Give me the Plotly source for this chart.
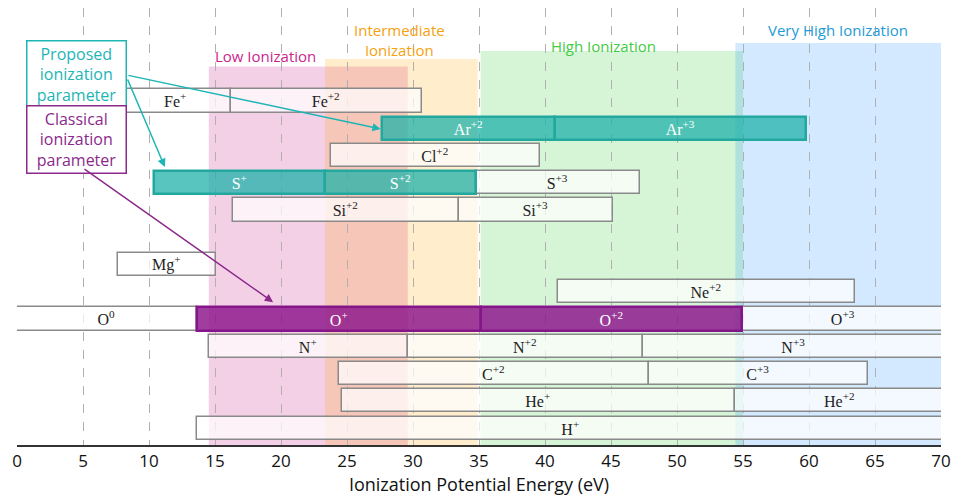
import plotly.graph_objects as go

# ---------------- data ----------------
row_names = ["H", "He", "C", "N", "O", "Ne", "Mg", "", "Si", "S", "Cl", "Ar", "Fe"]
row_pos = {n: i for i, n in enumerate(row_names)}

# plain (white) ion bars: element, label, start eV, end eV
plain_elem = ["Fe", "Fe", "Cl", "S", "Si", "Si", "Mg", "Ne", "O", "O", "N", "N", "N", "C", "C", "He", "He", "H"]
plain_label = ["Fe<sup>+</sup>", "Fe<sup>+2</sup>", "Cl<sup>+2</sup>", "S<sup>+3</sup>", "Si<sup>+2</sup>", "Si<sup>+3</sup>",
               "Mg<sup>+</sup>", "Ne<sup>+2</sup>", "O<sup>0</sup>", "O<sup>+3</sup>", "N<sup>+</sup>", "N<sup>+2</sup>",
               "N<sup>+3</sup>", "C<sup>+2</sup>", "C<sup>+3</sup>", "He<sup>+</sup>", "He<sup>+2</sup>", "H<sup>+</sup>"]
plain_start = [7.90, 16.19, 23.81, 34.79, 16.35, 33.49, 7.65, 40.96, 0.0, 54.94, 14.53, 29.60, 47.45, 24.38, 47.89, 24.59, 54.42, 13.60]
plain_end = [16.19, 30.65, 39.61, 47.22, 33.49, 45.14, 15.04, 63.45, 13.62, 70.3, 29.60, 47.45, 70.3, 47.89, 64.49, 54.42, 70.3, 70.3]

# proposed ionization parameter ions (teal)
prop_elem = ["Ar", "Ar", "S", "S"]
prop_label = ["Ar<sup>+2</sup>", "Ar<sup>+3</sup>", "S<sup>+</sup>", "S<sup>+2</sup>"]
prop_start = [27.63, 40.74, 10.36, 23.34]
prop_end = [40.74, 59.81, 23.34, 34.79]

# classical ionization parameter ions (purple)
clas_elem = ["O", "O"]
clas_label = ["O<sup>+</sup>", "O<sup>+2</sup>"]
clas_start = [13.62, 35.12]
clas_end = [35.12, 54.94]

# ionization zones
zone_names = ["Low Ionization", "Intermediate<br>Ionization", "High Ionization", "Very High Ionization"]
zone_start = [14.53, 23.34, 35.12, 54.42]
zone_end = [29.60, 34.90, 55.00, 70.0]

x_ticks = [0, 5, 10, 15, 20, 25, 30, 35, 40, 45, 50, 55, 60, 65, 70]

# ---------------- figure ----------------
fig = go.Figure()

SERIF = "Liberation Serif"
SANS = "Open Sans"


def add_bars(elems, labels, starts, ends, fill, line_color, line_w, text_color):
    fig.add_trace(go.Bar(
        y=[row_pos[e] for e in elems],
        x=[e - s for s, e in zip(starts, ends)],
        base=starts,
        orientation="h",
        width=0.85,
        text=labels,
        textposition="inside",
        insidetextanchor="middle",
        textangle=0,
        constraintext="none",
        textfont=dict(family=SERIF, size=16, color=text_color),
        marker=dict(color=fill, line=dict(color=line_color, width=line_w)),
        hoverinfo="skip",
        showlegend=False,
    ))


add_bars(plain_elem, plain_label, plain_start, plain_end, "rgba(255,255,255,0.72)", "#8a8a8a", 1.5, "#222222")
add_bars(prop_elem, prop_label, prop_start, prop_end, "rgba(32,178,170,0.75)", "#22a89f", 2.5, "white")
add_bars(clas_elem, clas_label, clas_start, clas_end, "rgba(139,20,139,0.82)", "#84168a", 2.5, "white")

# zone shading
zone_fill = ["rgba(199,21,133,0.2)", "rgba(255,165,0,0.2)", "rgba(50,205,50,0.2)", "rgba(30,144,255,0.2)"]
zone_top = [13.26, 13.54, 13.83, 14.13]
zone_text_color = ["#cc1f8e", "#f5a20f", "#3fcc3f", "#1e9ad6"]
zone_label_x = [18.8, 29.0, 44.4, 62.2]
zone_label_y = [13.65, 14.22, 14.0, 14.61]
for i in range(4):
    fig.add_shape(type="rect", xref="x", yref="y", x0=zone_start[i], x1=zone_end[i],
                  y0=-0.7, y1=zone_top[i], fillcolor=zone_fill[i], line_width=0, layer="below")
    fig.add_annotation(x=zone_label_x[i], y=zone_label_y[i], xref="x", yref="y", text=zone_names[i],
                       showarrow=False, font=dict(family=SANS, size=15, color=zone_text_color[i]))

# legend-like boxes
teal = "#1db5b5"
purple = "#8b2a8b"
fig.add_annotation(x=4.47, y=12.98, xref="x", yref="y", text="Proposed<br>ionization<br>parameter",
                   showarrow=False, font=dict(family=SANS, size=16, color=teal),
                   bordercolor=teal, borderwidth=1.5, bgcolor="white", borderpad=1, width=96)
fig.add_annotation(x=4.47, y=10.6, xref="x", yref="y", text="Classical<br>ionization<br>parameter",
                   showarrow=False, font=dict(family=SANS, size=16, color=purple),
                   bordercolor=purple, borderwidth=1.5, bgcolor="white", borderpad=1, width=96)

# arrows
arrows = [
    (8.33, 12.95, 27.55, 10.97, teal),
    (8.33, 12.84, 11.2, 9.58, teal),
    (5.0, 9.54, 19.4, 4.62, purple),
]
for ax_, ay_, x_, y_, c in arrows:
    fig.add_annotation(x=x_, y=y_, ax=ax_, ay=ay_, xref="x", yref="y", axref="x", ayref="y",
                       text="", showarrow=True, arrowhead=2, arrowsize=1.1, arrowwidth=1.5,
                       arrowcolor=c, standoff=0, startstandoff=0)

fig.update_layout(
    width=965, height=503,
    margin=dict(l=9, r=32, t=0, b=66),
    plot_bgcolor="white", paper_bgcolor="white",
    barmode="overlay",
    bargap=0,
    xaxis=dict(
        range=[0, 70], tickvals=x_ticks, ticktext=[str(v) for v in x_ticks],
        showgrid=True, gridcolor="#b0b0b0", griddash="dash", gridwidth=1,
        showline=True, linecolor="#333333", linewidth=2,
        ticks="", tickfont=dict(family=SANS, size=17, color="#111"),
        title=dict(text="Ionization Potential Energy (eV)", font=dict(family=SANS, size=18, color="#111"), standoff=2),
        zeroline=False,
    ),
    yaxis=dict(range=[-0.62, 15.41], showgrid=False, showticklabels=False, zeroline=False, showline=False),
)

fig.write_html("out.html")
